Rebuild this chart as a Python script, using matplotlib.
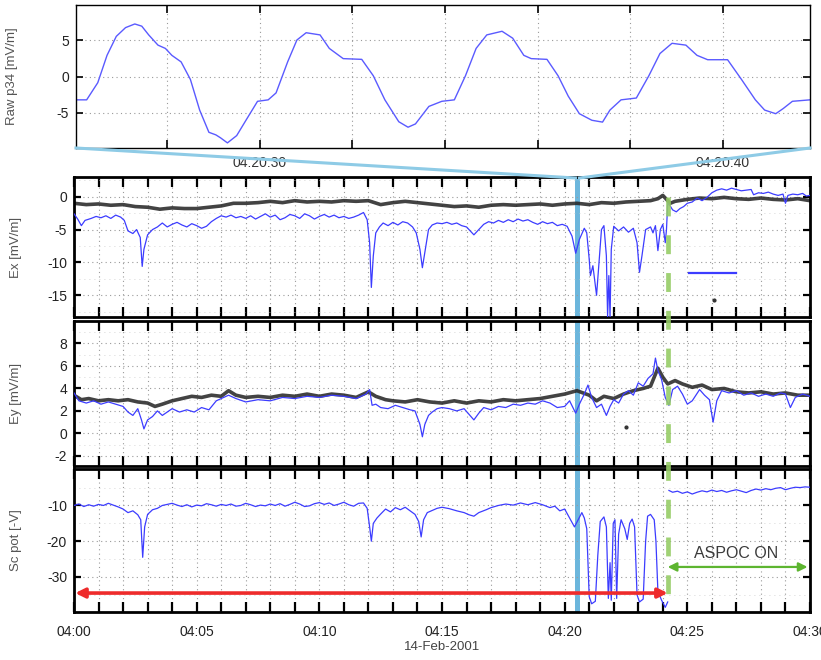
import matplotlib
matplotlib.use('Agg')
import matplotlib.pyplot as plt
from matplotlib.ticker import MultipleLocator, FixedLocator, FuncFormatter
from matplotlib.lines import Line2D

plt.rcParams['font.family'] = ['Liberation Sans Narrow', 'Liberation Sans', 'DejaVu Sans']
plt.rcParams['axes.unicode_minus'] = False

# ---- données ----
# panneau du haut : secondes après 04:20:00
raw_t = [26.03, 26.26, 26.5, 26.7, 26.9, 27.1, 27.3, 27.45, 27.6, 27.8, 27.96, 28.1, 28.3, 28.5,
         28.7, 28.9, 29.05, 29.15, 29.3, 29.5, 29.7, 29.95, 30.18, 30.35, 30.6, 30.8, 31.0, 31.3,
         31.5, 31.8, 32.2, 32.45, 32.7, 33.0, 33.2, 33.36, 33.65, 33.93, 34.2, 34.44, 34.67, 34.9,
         35.23, 35.46, 35.7, 35.86, 36.2, 36.44, 36.66, 36.9, 37.17, 37.4, 37.56, 37.8, 38.13,
         38.4, 38.64, 38.9, 39.2, 39.44, 39.67, 40.1, 40.4, 40.7, 40.9, 41.14, 41.3, 41.5, 41.88]
raw_v = [-3.2, -3.2, -0.85, 2.9, 5.5, 6.7, 7.2, 6.9, 5.7, 4.3, 3.85, 2.9, 2.0, -0.4,
         -4.6, -7.65, -8.0, -8.4, -9.1, -8.1, -6.0, -3.4, -3.2, -2.25, 2.0, 5.0, 6.0, 5.7,
         3.85, 2.45, 2.35, 0.1, -3.2, -6.2, -6.95, -6.5, -4.1, -3.4, -3.2, 0.1, 3.85, 5.7,
         6.2, 5.25, 2.9, 2.45, 2.35, 0.1, -2.7, -5.1, -6.0, -6.25, -4.6, -3.2, -2.95,
         0.1, 3.15, 4.55, 4.3, 2.9, 2.3, 2.3, -0.4, -3.2, -4.6, -5.1, -4.4, -3.4, -3.2]

# minutes après 04:00
ex_blue_t = [0.0, 0.15, 0.3, 0.45, 0.7, 0.9, 1.1, 1.3, 1.5, 1.7, 1.9, 2.05, 2.2, 2.4, 2.55, 2.7,
             2.78, 2.85, 3.0, 3.2, 3.4, 3.6, 3.8, 4.0, 4.2, 4.4, 4.6, 4.8, 5.0, 5.2, 5.4, 5.6,
             5.8, 6.0, 6.2, 6.4, 6.6, 6.8, 7.0, 7.2, 7.4, 7.6, 7.8, 8.0, 8.2, 8.4, 8.6, 8.8,
             9.0, 9.2, 9.4, 9.6, 9.8, 10.0, 10.2, 10.4, 10.6, 10.8, 11.0, 11.2, 11.4, 11.6,
             11.8, 11.95, 12.05, 12.12, 12.2, 12.3, 12.45, 12.6, 12.8, 13.0, 13.2, 13.4, 13.6,
             13.8, 13.95, 14.1, 14.2, 14.3, 14.45, 14.6, 14.8, 15.0, 15.2, 15.4, 15.6, 15.8,
             16.0, 16.15, 16.3, 16.5, 16.7, 16.9, 17.1, 17.3, 17.5, 17.7, 17.9, 18.1, 18.3,
             18.5, 18.7, 18.9, 19.1, 19.3, 19.5, 19.7, 19.9, 20.1, 20.3, 20.45, 20.6, 20.8,
             20.9, 21.0, 21.05, 21.15, 21.3, 21.4, 21.5, 21.6, 21.7, 21.75, 21.8, 21.85, 21.9,
             22.0, 22.2, 22.4, 22.6, 22.8, 22.95, 23.05, 23.15, 23.3, 23.5, 23.6, 23.7, 23.8,
             23.9, 24.0, 24.1, 24.15, 24.2, 24.3, 24.4, 24.55, 24.7, 24.85, 25.0, 25.2, 25.4,
             25.6, 25.8, 26.0, 26.2, 26.4, 26.6, 26.8, 27.0, 27.2, 27.4, 27.6, 27.7, 27.9,
             28.1, 28.3, 28.5, 28.7, 28.9, 29.0, 29.1, 29.3, 29.5, 29.7, 29.85, 30.0]
ex_blue_v = [-2.6, -3.4, -4.4, -3.6, -3.3, -3.0, -3.2, -2.9, -3.3, -2.8, -3.1, -3.6, -5.2, -5.6, -5.0, -6.2,
             -10.6, -8.0, -5.8, -5.0, -4.6, -4.0, -4.6, -4.2, -3.9, -4.3, -4.6, -4.1, -4.4, -4.8, -4.5, -3.8,
             -3.3, -2.9, -3.1, -2.8, -3.2, -3.0, -3.3, -2.9, -3.4, -3.0, -2.6, -3.1, -2.8, -3.5, -3.2, -2.7,
             -2.9, -3.3, -2.6, -2.9, -3.4, -3.0, -2.7, -3.1, -2.8, -3.2, -3.0, -3.3, -3.1, -2.8,
             -2.4, -3.5, -7.0, -13.8, -9.0, -5.5, -4.6, -4.0, -4.4, -3.9, -4.3, -3.8, -4.0,
             -4.6, -5.5, -8.0, -10.8, -8.5, -5.0, -4.3, -4.0, -4.1, -3.9, -4.2, -4.0, -4.4,
             -4.6, -5.2, -5.8, -5.0, -4.2, -3.8, -4.0, -3.6, -3.9, -3.5, -3.8, -3.4, -3.7,
             -3.5, -3.9, -4.2, -3.8, -4.1, -3.9, -4.4, -4.2, -4.5, -6.0, -8.6, -6.5, -4.8,
             -5.5, -9.5, -12.0, -10.5, -15.0, -10.0, -5.0, -4.4, -9.0, -18.3, -12.0, -18.3, -8.0,
             -4.5, -5.2, -4.6, -5.4, -4.8, -7.0, -11.5, -9.0, -5.0, -4.6, -5.5, -4.4, -8.2,
             -5.0, -4.2, -7.0, -5.0, -1.0, -1.4, -2.0, -2.3, -1.8, -1.5, -1.0, -0.8, -0.2,
             -0.6, -0.1, 0.6, 1.0, 1.2, 1.0, 1.3, 1.1, 0.9, 1.0, 1.1, 0.3, 0.6,
             0.5, 0.7, 0.4, 0.2, 0.4, -1.0, 0.2, 0.4, 0.3, 0.5, 0.1, 0.2]

ex_black_t = [0, 0.5, 1, 1.5, 2, 2.5, 3, 3.5, 4, 4.5, 5, 5.5, 6, 6.5, 7, 7.5, 8, 8.5, 9, 9.5,
              10, 10.5, 11, 11.5, 12, 12.5, 13, 13.5, 14, 14.5, 15, 15.5, 16, 16.5, 17, 17.5,
              18, 18.5, 19, 19.5, 20, 20.5, 21, 21.5, 22, 22.5, 23, 23.5, 23.8, 24.0, 24.1, 24.3,
              24.5, 25, 25.5, 26, 26.5, 27, 27.5, 28, 28.5, 29, 29.5, 30]
ex_black_v = [-1.0, -1.2, -1.1, -1.3, -1.2, -1.5, -1.6, -1.9, -1.7, -1.8, -1.8, -1.6, -1.4, -1.0, -1.0, -0.9, -0.7, -0.9, -0.6, -0.8,
              -0.7, -0.8, -0.6, -0.7, -0.6, -1.2, -0.9, -0.7, -0.9, -1.1, -1.3, -1.5, -1.4, -1.6, -1.3, -1.2,
              -1.3, -1.2, -1.1, -1.3, -1.1, -1.0, -1.2, -0.9, -1.0, -0.8, -0.7, -0.6, -0.3, 0.2, -0.2, -1.0,
              -0.7, -0.4, -0.2, -0.3, -0.1, -0.3, -0.4, -0.2, -0.4, -0.5, -0.3, -0.6]

ey_blue_t = [0, 0.2, 0.5, 0.8, 1.1, 1.4, 1.7, 2.0, 2.2, 2.4, 2.6, 2.75, 2.85, 3.0, 3.2, 3.4, 3.6, 3.8,
             4.0, 4.3, 4.6, 4.9, 5.2, 5.5, 5.8, 6.0, 6.3, 6.6, 7, 7.5, 8, 8.5, 9, 9.5, 10, 10.5, 11,
             11.5, 11.9, 12.05, 12.15, 12.3, 12.5, 12.8, 13.1, 13.4, 13.7, 13.9, 14.1, 14.2, 14.3,
             14.45, 14.6, 14.8, 15.0, 15.3, 15.6, 15.9, 16.1, 16.3, 16.5, 16.7, 17, 17.3, 17.6, 17.9,
             18.2, 18.5, 18.8, 19.1, 19.4, 19.7, 20.0, 20.2, 20.45, 20.6, 20.8, 20.95, 21.1, 21.3,
             21.5, 21.7, 21.85, 22.0, 22.2, 22.4, 22.6, 22.8, 23.0, 23.2, 23.4, 23.6, 23.7, 23.8,
             23.95, 24.1, 24.25, 24.4, 24.6, 24.8, 25.0, 25.2, 25.5, 25.7, 25.9, 26.05, 26.2, 26.4,
             26.7, 27.0, 27.3, 27.6, 27.9, 28.2, 28.5, 28.8, 29.0, 29.2, 29.4, 29.7, 30.0]
ey_blue_v = [3.6, 2.9, 2.7, 2.9, 2.6, 2.8, 2.6, 2.4, 1.9, 1.6, 2.2, 1.2, 0.4, 1.2, 1.5, 2.0, 1.6, 1.9,
             2.2, 1.9, 2.1, 1.9, 2.3, 2.1, 2.9, 3.1, 3.4, 3.1, 2.8, 3.0, 2.9, 3.2, 3.1, 3.3, 3.2, 3.4, 3.3,
             3.1, 3.5, 3.9, 2.5, 2.6, 2.3, 2.2, 2.5, 2.3, 2.1, 2.0, 0.8, -0.3, 0.8,
             1.6, 1.9, 2.2, 2.3, 2.2, 2.0, 2.2, 1.7, 1.2, 1.8, 2.3, 2.1, 2.4, 2.3, 2.6,
             2.5, 2.7, 2.6, 2.9, 2.7, 2.3, 2.4, 2.9, 1.8, 2.6, 3.5, 4.3, 3.2, 2.3,
             2.6, 1.6, 2.4, 3.0, 2.7, 3.5, 3.8, 3.4, 4.5, 4.2, 4.9, 5.3, 6.7, 5.6,
             4.8, 3.2, 2.5, 3.9, 4.2, 3.5, 2.6, 2.9, 3.9, 3.4, 3.0, 1.0, 2.9, 3.8,
             3.6, 3.8, 3.4, 3.6, 3.3, 3.5, 3.3, 3.6, 3.5, 2.3, 3.2, 3.5, 3.3]

ey_black_t = [0, 0.3, 0.6, 1, 1.4, 1.8, 2.2, 2.6, 3.0, 3.3, 3.6, 4.0, 4.4, 4.8, 5.2, 5.6, 6.0, 6.3,
              6.6, 7.0, 7.5, 8, 8.5, 9, 9.5, 10, 10.5, 11, 11.5, 12, 12.3, 12.7, 13, 13.5, 14, 14.5,
              15, 15.5, 16, 16.5, 17, 17.5, 18, 18.5, 19, 19.5, 20, 20.5, 21, 21.3, 21.6, 22, 22.4,
              22.8, 23.2, 23.5, 23.8, 24.0, 24.2, 24.5, 24.8, 25.2, 25.6, 26, 26.5, 27, 27.5, 28,
              28.5, 29, 29.5, 30]
ey_black_v = [3.4, 3.0, 3.1, 2.9, 3.0, 2.9, 3.0, 2.8, 2.7, 2.4, 2.6, 2.9, 3.1, 3.3, 3.2, 3.4, 3.3, 3.8,
              3.4, 3.2, 3.3, 3.2, 3.4, 3.3, 3.5, 3.3, 3.5, 3.4, 3.2, 3.7, 3.3, 3.0, 2.9, 2.8, 3.0, 2.8,
              2.7, 2.9, 2.7, 2.9, 2.8, 3.0, 2.9, 3.0, 3.1, 3.3, 3.5, 3.8, 3.4, 2.9, 3.3, 3.1, 3.5,
              3.8, 4.0, 4.2, 5.8, 5.0, 4.4, 4.7, 4.4, 4.1, 4.3, 3.9, 4.0, 3.7, 3.6, 3.7,
              3.5, 3.6, 3.4, 3.4]

sc_t = [0, 0.2, 0.4, 0.6, 0.8, 1.0, 1.2, 1.4, 1.6, 1.8, 2.0, 2.2, 2.4, 2.6, 2.72, 2.8, 2.88, 3.0,
        3.2, 3.4, 3.6, 3.8, 4.0, 4.2, 4.4, 4.6, 4.8, 5.0, 5.2, 5.4, 5.6, 5.8, 6.0, 6.2, 6.4, 6.6,
        6.8, 7.0, 7.2, 7.4, 7.6, 7.8, 8.0, 8.2, 8.4, 8.6, 8.8, 9.0, 9.2, 9.4, 9.6, 9.8, 10.0, 10.2,
        10.4, 10.6, 10.8, 11.0, 11.2, 11.4, 11.6, 11.8, 11.95, 12.05, 12.12, 12.2, 12.35, 12.5,
        12.7, 12.9, 13.1, 13.3, 13.5, 13.7, 13.9, 14.05, 14.15, 14.25, 14.4, 14.6, 14.8, 15.0,
        15.3, 15.6, 15.9, 16.1, 16.3, 16.5, 16.8, 17.0, 17.3, 17.6, 17.9, 18.2, 18.5, 18.8, 19.1,
        19.4, 19.6, 19.8, 20.0, 20.2, 20.4, 20.55, 20.7, 20.8, 20.9, 21.0, 21.1, 21.25, 21.35,
        21.45, 21.6, 21.7, 21.78, 21.85, 21.9, 21.98, 22.05, 22.12, 22.2, 22.3, 22.45, 22.55,
        22.65, 22.75, 22.85, 22.95, 23.05, 23.2, 23.3, 23.38, 23.5, 23.65, 23.72, 23.8, 23.95,
        24.1, 24.2, 24.22,
        24.25, 24.4, 24.6, 24.8, 25.0, 25.2, 25.4, 25.6, 25.8, 26.0, 26.2, 26.4, 26.6, 26.8, 27.0,
        27.2, 27.4, 27.6, 27.8, 28.0, 28.2, 28.4, 28.6, 28.8, 29.0, 29.2, 29.4, 29.6, 29.8, 30.0]
sc_v = [-10.0, -9.6, -10.3, -9.8, -10.2, -9.7, -10.0, -9.4, -9.9, -10.4, -11.0, -12.0, -11.5, -12.6, -14.0, -24.5, -16.0, -12.5,
        -11.2, -10.8, -10.0, -9.7, -9.4, -9.9, -10.3, -9.8, -10.4, -9.9, -10.1, -9.5, -9.8, -10.2, -9.7, -10.0, -9.6, -10.2,
        -10.0, -9.4, -9.8, -10.3, -9.9, -10.1, -9.6, -10.0, -9.5, -10.2, -9.7, -9.1, -9.6, -10.3, -10.1, -9.5, -9.2, -9.7,
        -9.3, -10.0, -9.6, -9.1, -9.8, -10.2, -9.4, -9.3, -10.8, -16.0, -20.0, -15.0, -13.5, -12.4,
        -11.0, -11.8, -10.6, -11.2, -10.5, -11.5, -12.5, -14.5, -18.8, -14.0, -12.0, -11.4, -10.8, -10.5,
        -10.9, -11.5, -12.0, -12.6, -13.0, -12.0, -11.2, -10.6, -10.0, -9.6, -9.9, -9.3, -9.8, -9.2, -9.8,
        -10.6, -10.2, -11.5, -11.0, -13.5, -16.0, -14.0, -12.0, -13.5, -16.5, -35.5, -37.5, -36.8, -24.0,
        -14.5, -13.2, -16.0, -36.0, -26.0, -36.5, -15.0, -14.0, -36.0, -18.0, -14.0, -16.5, -19.5,
        -15.0, -13.8, -16.0, -35.0, -37.0, -36.2, -20.0, -13.0, -12.5, -14.0, -20.0, -34.0, -36.5,
        -38.5, -37.0, float('nan'),
        -5.8, -6.3, -6.0, -6.6, -6.2, -6.8, -6.3, -5.9, -6.2, -5.7, -6.1, -5.8, -6.3, -5.9, -5.6,
        -6.0, -6.4, -5.8, -5.4, -5.7, -5.3, -5.6, -5.2, -5.0, -5.6, -5.2, -4.9, -5.0, -4.8, -4.9]

# segment bleu isolé et points noirs isolés
ex_seg_t = [25.05, 27.0]
ex_seg_v = [-11.6, -11.6]
ex_dot = (26.07, -15.7)
ey_dot = (22.49, 0.55)

t_zoom = 20.5      # fenêtre du panneau du haut
t_aspoc = 24.2     # mise en route ASPOC
y_red = -34.5
y_green = -27.2

BLUE = '#3c3cff'
CYAN = '#6cb6dc'
GRIDC = '#9a9a9a'

fig = plt.figure(figsize=(8.21, 6.6), dpi=100)
W, H = 821.0, 660.0

def rect(x0, y0, x1, y1):
    return [x0 / W, 1 - y1 / H, (x1 - x0) / W, (y1 - y0) / H]

ax_raw = fig.add_axes(rect(76, 5, 810, 148))
ax_ex = fig.add_axes(rect(74, 177, 810, 317))
ax_ey = fig.add_axes(rect(74, 321, 810, 466))
ax_sc = fig.add_axes(rect(74, 469, 810, 612))

def minute_fmt(x, pos):
    return '04:%02d' % int(round(x))

def style_main(ax, yticks, yminor, ylim, label, show_x):
    ax.set_xlim(0, 30)
    ax.set_ylim(*ylim)
    ax.xaxis.set_major_locator(MultipleLocator(5))
    ax.xaxis.set_minor_locator(MultipleLocator(1))
    ax.yaxis.set_major_locator(FixedLocator(yticks))
    ax.yaxis.set_minor_locator(MultipleLocator(yminor))
    ax.tick_params(axis='x', which='both', direction='in', top=True, bottom=True,
                   length=7, width=1.6, labelsize=10, labelcolor='#222', pad=9,
                   labelbottom=show_x)
    ax.tick_params(axis='y', which='major', direction='in', left=True, right=True,
                   length=5, width=1.6, labelsize=10, labelcolor='#222', pad=5)
    ax.tick_params(axis='y', which='minor', length=0)
    ax.xaxis.set_major_formatter(FuncFormatter(minute_fmt))
    ax.grid(True, which='both', axis='x', linestyle=(0, (1, 3)), color=GRIDC, lw=0.8)
    ax.grid(True, which='major', axis='y', linestyle=(0, (1, 3)), color=GRIDC, lw=0.8)
    ax.grid(True, which='minor', axis='y', linestyle=(0, (1, 5)), color='#c8c8c8', lw=0.6)
    for s in ax.spines.values():
        s.set_linewidth(2.0)
    ax.set_ylabel(label, fontsize=9.5, color='#555555')
    ax.yaxis.set_label_coords(-0.07, 0.5)
    ax.axvline(t_zoom, color=CYAN, lw=3.6, zorder=1)

# panneau du haut
ax_raw.plot(raw_t, raw_v, color='#5a5aff', lw=1.0)
ax_raw.set_xlim(26.03, 41.88)
ax_raw.set_ylim(-9.8, 9.8)
ax_raw.xaxis.set_major_locator(FixedLocator([30, 40]))
ax_raw.xaxis.set_minor_locator(MultipleLocator(2))
ax_raw.xaxis.set_major_formatter(FuncFormatter(lambda x, p: '04:20:%02d' % int(round(x))))
ax_raw.yaxis.set_major_locator(FixedLocator([-5, 0, 5]))
ax_raw.tick_params(axis='x', which='both', direction='in', top=True, bottom=True,
                   length=6, width=1.2, labelsize=10, labelcolor='#333', pad=6)
ax_raw.tick_params(axis='y', direction='in', left=True, right=True, length=5, width=1.2,
                   labelsize=10, labelcolor='#222', pad=5)
ax_raw.grid(True, which='both', axis='x', linestyle=(0, (1, 3)), color=GRIDC, lw=0.8)
ax_raw.grid(True, which='major', axis='y', linestyle=(0, (1, 3)), color=GRIDC, lw=0.8)
for s in ax_raw.spines.values():
    s.set_linewidth(1.0)
ax_raw.set_ylabel('Raw p34 [mV/m]', fontsize=9.5, color='#555555')
ax_raw.yaxis.set_label_coords(-0.079, 0.5)

# Ex
style_main(ax_ex, [-15, -10, -5, 0], 2.5, (-18.3, 3.0), 'Ex [mV/m]', False)
ax_ex.plot(ex_black_t, ex_black_v, color='#222222', lw=2.6, alpha=0.85, zorder=2)
ax_ex.plot(ex_blue_t, ex_blue_v, color=BLUE, lw=0.9, zorder=3)
ax_ex.plot(ex_seg_t, ex_seg_v, color=BLUE, lw=1.6, zorder=3)
ax_ex.plot([ex_dot[0]], [ex_dot[1]], 'o', color='#333', ms=2, zorder=3)

# Ey
style_main(ax_ey, [-2, 0, 2, 4, 6, 8], 1, (-2.9, 10.0), 'Ey [mV/m]', False)
ax_ey.plot(ey_black_t, ey_black_v, color='#222222', lw=2.6, alpha=0.85, zorder=2)
ax_ey.plot(ey_blue_t, ey_blue_v, color=BLUE, lw=0.9, zorder=3)
ax_ey.plot([ey_dot[0]], [ey_dot[1]], 'o', color='#333', ms=2, zorder=3)

# Sc pot
style_main(ax_sc, [-30, -20, -10], 5, (-39.8, 0.2), 'Sc pot [-V]', True)
ax_sc.plot(sc_t, sc_v, color=BLUE, lw=0.9, zorder=3)
ax_sc.annotate('', xy=(0.05, y_red), xytext=(t_aspoc, y_red),
               arrowprops=dict(arrowstyle='<|-|>', color='#ee2b2b', lw=2.6,
                               mutation_scale=14, shrinkA=0, shrinkB=0), zorder=4)
ax_sc.annotate('', xy=(t_aspoc, y_green), xytext=(29.9, y_green),
               arrowprops=dict(arrowstyle='<|-|>', color='#5db530', lw=1.6,
                               mutation_scale=13, shrinkA=0, shrinkB=0), zorder=4)
ax_sc.text(27.0, -23.3, 'ASPOC ON', fontsize=11.5, color='#3a3a3a', ha='center', va='center')
ax_sc.set_xlabel('14-Feb-2001', fontsize=9.5, color='#444', labelpad=2)

# trait vert tireté sur les trois panneaux
pos = ax_ex.get_position()
xg = pos.x0 + t_aspoc / 30.0 * pos.width
fig.add_artist(Line2D([xg, xg], [1 - 197 / H, 1 - 612 / H], transform=fig.transFigure,
                      color='#96cc66', lw=3.4, alpha=0.9,
                      linestyle=(0, (4.0, 4.0)), zorder=5))

# traits de liaison vers le panneau du haut
xz = pos.x0 + t_zoom / 30.0 * pos.width
y_top = 1 - 148 / H
y_bot = 1 - 178 / H
fig.add_artist(Line2D([76 / W, xz - 1.5 / W], [y_top, y_bot], transform=fig.transFigure,
                      color='#8ecbe6', lw=2.2))
fig.add_artist(Line2D([810 / W, xz + 2.5 / W], [y_top, y_bot], transform=fig.transFigure,
                      color='#8ecbe6', lw=2.2))

fig.savefig('out.png', dpi=100)
